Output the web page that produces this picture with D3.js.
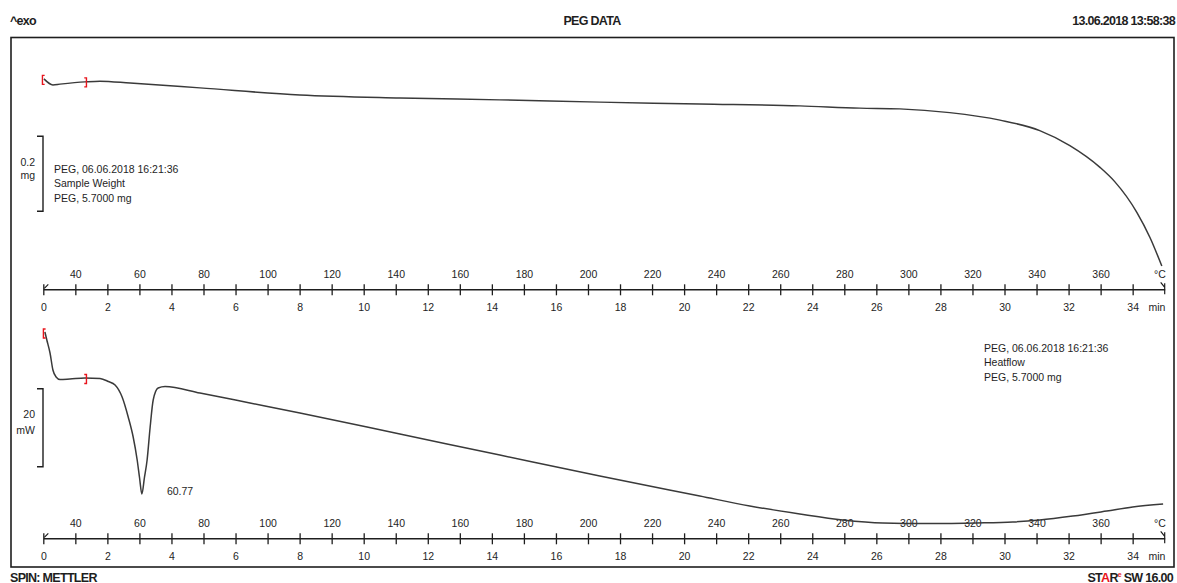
<!DOCTYPE html>
<html><head><meta charset="utf-8">
<script src="https://cdn.jsdelivr.net/npm/d3@7"></script>
<style>
html,body{margin:0;padding:0;background:#fff;}
svg{display:block;font-family:"Liberation Sans",Arial,sans-serif;}
</style></head><body>
<svg id="chart" width="1177" height="583"></svg>
<script>
// Axis tick values
const timeTicks = [0, 2, 4, 6, 8, 10, 12, 14, 16, 18, 20, 22, 24, 26, 28, 30, 32, 34];      // min
const tempTicks = [40, 60, 80, 100, 120, 140, 160, 180, 200, 220, 240, 260, 280, 300, 320, 340, 360]; // °C

// Sample weight curve (furnace temperature °C, weight mg)
const weightTemp = [30.2, 33.0, 35.2, 43.0, 47.7, 57.1, 78.9, 110.1, 141.3, 172.5, 203.7, 234.9,
                    266.1, 284.8, 297.3, 312.9, 328.6, 341.0, 350.4, 359.8, 364.4, 371.3, 375.4, 379.1];
const weightMg   = [5.703, 5.687, 5.689, 5.695, 5.697, 5.692, 5.679, 5.660, 5.652, 5.647, 5.641, 5.636,
                    5.631, 5.625, 5.623, 5.613, 5.593, 5.565, 5.525, 5.467, 5.429, 5.347, 5.280, 5.204];

// Heat flow curve (temperature °C, heat flow mW, exo up)
const heatTemp = [30.5, 31.1, 32.1, 33.0, 34.0, 35.2, 38.3, 43.0, 47.7, 50.3, 52.4, 54.6, 56.5, 58.05,
                  59.3, 60.05, 60.77, 61.55, 62.4, 63.35, 64.3, 65.85, 68.0, 78.9, 94.5, 110.1, 141.3,
                  172.5, 203.7, 234.9, 250.5, 266.1, 279.5, 292.0, 305.7, 321.3, 332.6, 341.0, 351.3,
                  361.9, 370.0, 379.5];
const heatMw   = [12.05, 10.0, 6.67, 2.31, 0.51, -0.13, 0, 0.26, 0.13, -0.64, -1.54, -4.62, -9.74, -14.87,
                  -20.77, -25.38, -29.49, -25.38, -20.77, -12.31, -5.38, -2.31, -1.92, -3.59, -6.15, -8.72,
                  -14.10, -19.49, -24.87, -30.0, -32.56, -34.62, -36.15, -36.92, -37.05, -36.92, -36.67,
                  -36.15, -35.13, -33.85, -32.82, -32.05];

const peakTemp = 60.77;         // melting peak, °C
const peakMw = -29.49;
const bracketTemps = [43.0];    // evaluation-limit end marks

const infoTop = ["PEG, 06.06.2018 16:21:36", "Sample Weight", "PEG, 5.7000 mg"];
const infoBottom = ["PEG, 06.06.2018 16:21:36", "Heatflow", "PEG, 5.7000 mg"];

const W = 1177, H = 583;
const ink = "#1e1e1e", curveInk = "#3a3a3a", red = "#e8141c";
const svg = d3.select("#chart");
svg.append("rect").attr("width", W).attr("height", H).attr("fill", "#fff");

const xTime = d3.scaleLinear().domain([0, 35]).range([43.3, 1164.7]);
const xTemp = d3.scaleLinear().domain([30, 380]).range([43.3, 1164.7]);
const yWeight = d3.scaleLinear().domain([5.70, 5.20]).range([80, 267.5]);
const yHeat = d3.scaleLinear().domain([0, -30]).range([379, 496]);

// Header and footer
const hdr = {size: "12.5px", ls: "-0.7px", weight: "bold"};
function label(x, y, txt, anchor, opts = {}) {
  return svg.append("text").attr("x", x).attr("y", y).attr("text-anchor", anchor || "start")
    .attr("font-size", opts.size || "10.5px").attr("letter-spacing", opts.ls || null)
    .attr("font-weight", opts.weight || null)
    .attr("fill", opts.fill || ink).text(txt);
}
label(10, 25, "^exo", "start", hdr);
label(592, 25, "PEG DATA", "middle", hdr);
label(1175, 25, "13.06.2018 13:58:38", "end", hdr);
label(10, 581.5, "SPIN: METTLER", "start", hdr);
const star = svg.append("text").attr("x", 1173).attr("y", 581.5).attr("text-anchor", "end")
  .attr("font-size", hdr.size).attr("letter-spacing", hdr.ls).attr("font-weight", hdr.weight).attr("fill", ink);
star.append("tspan").text("ST");
star.append("tspan").attr("fill", red).text("A");
star.append("tspan").text("R");
star.append("tspan").attr("fill", red).attr("font-size", "7px").attr("dy", -5).text("e");
star.append("tspan").attr("dy", 5).text(" SW 16.00");

// Frame
svg.append("rect").attr("x", 11).attr("y", 37.5).attr("width", 1163).attr("height", 529.5)
  .attr("fill", "none").attr("stroke", ink).attr("stroke-width", 1.6);

// Combined time / temperature axis
function drawAxis(y) {
  const gTemp = svg.append("g").attr("transform", `translate(0,${y})`)
    .call(d3.axisTop(xTemp).tickValues(tempTicks).tickSize(5).tickSizeOuter(0).tickPadding(6.5));
  gTemp.select(".domain").remove();
  const gTime = svg.append("g").attr("transform", `translate(0,${y})`)
    .call(d3.axisBottom(xTime).tickValues(timeTicks).tickSize(6).tickSizeOuter(0).tickPadding(8).tickFormat(d3.format("d")));
  [gTemp, gTime].forEach(g => {
    g.attr("font-family", null).attr("font-size", "10.5px");
    g.selectAll(".tick line").attr("y1", -5).attr("y2", 6).attr("stroke", ink).attr("stroke-width", 1.3);
    g.selectAll(".tick text").attr("fill", ink);
  });
  gTime.select(".domain").attr("stroke", ink).attr("stroke-width", 1.5);
  const x0 = xTime(0), x1 = xTime(35);
  svg.append("path").attr("d", `M${x0 + 5},${y - 5} L${x0 + 1},${y - 1} M${x1 - 4},${y - 7} L${x1},${y - 2} M${x1},${y - 6} V${y + 5}`)
    .attr("fill", "none").attr("stroke", ink).attr("stroke-width", 1.2);
  label(1160, y - 11.5, "°C", "middle");
  label(1157, y + 21.5, "min", "middle");
}
drawAxis(289.3);
drawAxis(538.3);

// Curves
const line = d3.line().curve(d3.curveMonotoneX);
const weightPts = weightTemp.map((t, i) => [xTemp(t), yWeight(weightMg[i])]);
const heatPts = heatTemp.map((t, i) => [xTemp(t), yHeat(heatMw[i])]);
svg.append("path").attr("d", line(weightPts)).attr("fill", "none").attr("stroke", curveInk).attr("stroke-width", 1.5);
svg.append("path").attr("d", line(heatPts)).attr("fill", "none").attr("stroke", curveInk).attr("stroke-width", 1.5);

// Evaluation limit brackets
function bracket(x, y, dir) {
  svg.append("path").attr("d", `M${x + 2.2 * dir},${y - 4.5} H${x} V${y + 4.5} H${x + 2.2 * dir}`)
    .attr("fill", "none").attr("stroke", red).attr("stroke-width", 1.4);
}
bracket(xTemp(weightTemp[0]) - 1.5, yWeight(weightMg[0]) + 1, 1);
bracket(xTemp(heatTemp[0]) - 1.5, yHeat(heatMw[0]) + 1.5, 1);
bracketTemps.forEach(t => {
  const iw = weightTemp.indexOf(t), ih = heatTemp.indexOf(t);
  bracket(xTemp(t) + 1.5, yWeight(weightMg[iw]) + 0.5, -1);
  bracket(xTemp(t) + 1.5, yHeat(heatMw[ih]) + 1, -1);
});

// Scale bars
function scaleBar(yA, yB, t1, t2, b1, b2) {
  svg.append("path").attr("d", `M37,${yA} H43 V${yB} H37`).attr("fill", "none")
    .attr("stroke", ink).attr("stroke-width", 1.4);
  label(35, b1, t1, "end");
  label(35, b2, t2, "end");
}
scaleBar(yWeight(5.55), yWeight(5.35), "0.2", "mg", 166, 179);
scaleBar(yHeat(-2.5), yHeat(-22.5), "20", "mW", 418, 433.5);

// Curve descriptions
infoTop.forEach((s, i) => label(54, [173, 187, 202][i], s, "start"));
infoBottom.forEach((s, i) => label(984, [352, 366, 381][i], s, "start"));

// Peak temperature
label(xTemp(peakTemp) + 25, yHeat(peakMw) + 1, d3.format(".2f")(peakTemp), "start");
</script>
</body></html>
